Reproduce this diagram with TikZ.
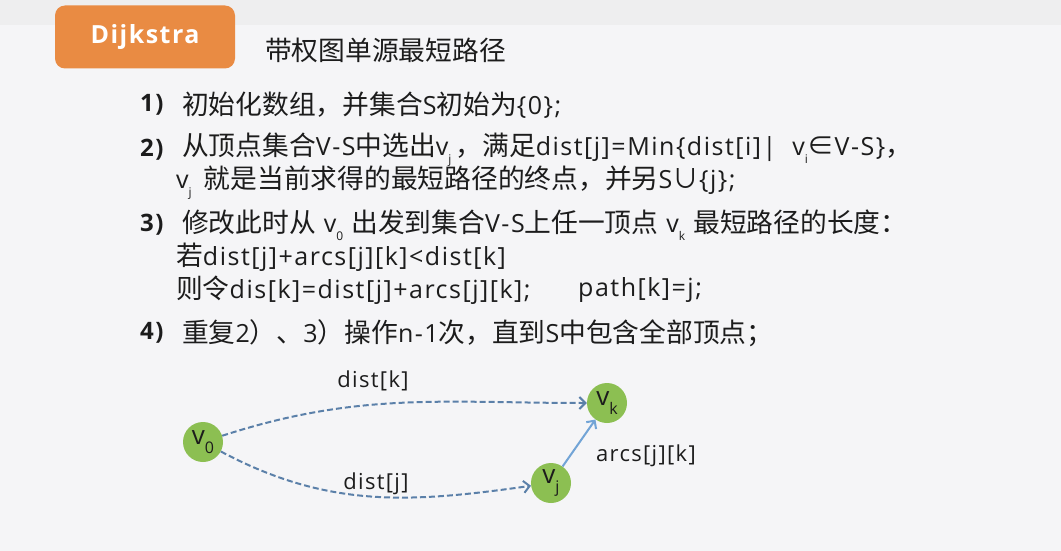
\documentclass[tikz,border=0pt]{standalone}
\usepackage{fontspec}
\setmainfont{Open Sans}[LetterSpace=6]
\newfontfamily\latinfont{Open Sans}[LetterSpace=6]
\newfontfamily\cjkfont{Noto Sans CJK SC}[Scale=1.07]
\usetikzlibrary{arrows.meta}
\definecolor{slidebg}{HTML}{F5F5F7}
\definecolor{topband}{HTML}{EEEEEF}
\definecolor{tagorange}{HTML}{E98B43}
\definecolor{vgreen}{HTML}{8CBF52}
\definecolor{pathblue}{HTML}{5B80A9}
\definecolor{arcblue}{HTML}{72A4D6}
\definecolor{ink}{HTML}{1C1C1C}
% CJK characters and a few symbols go to the CJK font
\newXeTeXintercharclass\cjkclass
\newcount\cjkcode
\newcommand{\cjkrange}[2]{%
  \cjkcode=#1
  \loop
    \XeTeXcharclass\cjkcode=\cjkclass
    \advance\cjkcode by 1
  \ifnum\cjkcode<#2 \repeat}
\cjkrange{"4E00}{"A000}
\cjkrange{"3000}{"3040}
\cjkrange{"FF00}{"FFF0}
\XeTeXcharclass"2208=\cjkclass
\XeTeXcharclass"222A=\cjkclass
\XeTeXinterchartoks 0 \cjkclass = {\cjkfont}
\XeTeXinterchartoks 4095 \cjkclass = {\cjkfont}
\XeTeXinterchartoks \cjkclass 0 = {\latinfont}
\XeTeXinterchartoks \cjkclass 4095 = {\latinfont}
\XeTeXinterchartokenstate=1
\newcommand{\vsub}[2][12]{\raisebox{-0.6ex}{\fontsize{#1}{#1}\selectfont #2}}
\tikzset{
  tagbox/.style={fill=tagorange, rounded corners=10pt, minimum width=180pt, minimum height=63pt,
    text=white, font=\fontsize{25}{25}\selectfont\bfseries},
  titletext/.style={anchor=west, inner sep=0pt, text=ink, font=\fontsize{25}{30}\selectfont},
  stepnum/.style={anchor=west, inner sep=0pt, text=ink, font=\fontsize{24}{30}\selectfont\bfseries},
  bodytext/.style={anchor=west, inner sep=0pt, text=ink, font=\fontsize{25}{30}\selectfont},
  vertex/.style={circle, fill=vgreen, minimum size=40pt, inner sep=0pt, text=ink,
    font=\fontsize{26}{26}\selectfont},
  edgelabel/.style={inner sep=0pt, text=ink, font=\fontsize{22}{26}\selectfont},
  distpath/.style={pathblue, line width=2pt, dash pattern=on 6pt off 3pt,
    -{Straight Barb[length=6pt,width=12pt,line width=2pt]}},
  arcpath/.style={arcblue, line width=2pt,
    -{Straight Barb[length=6pt,width=12pt,line width=2pt]}}
}

\begin{document}
\begin{tikzpicture}[x=1pt,y=-1pt]

	\useasboundingbox (0,0) rectangle (1061,551);
	\fill[slidebg] (0,0) rectangle (1061,551);
	\fill[topband] (0,0) rectangle (1061,25);

	\node[tagbox] (tag) at (145,37) {Dijkstra};
	\node[titletext] (title) at (265,50) {带权图单源最短路径};

	% steps
	\node[stepnum] (num1) at (140,105) {1)};
	\node[bodytext] (step1) at (182,105) {初始化数组，并集合S初始为\{0\};};

	\node[stepnum] (num2) at (140,150) {2)};
	\node[bodytext] (step2) at (182,150) {从顶点集合V-S中选出v\vsub{j}\,，满足dist[j]=Min\{dist[i]|\ \ v\vsub{i}∈V-S\}，};
	\node[bodytext] (step2b) at (176,183) {v\vsub{j}\ \,就是当前求得的最短路径的终点，并另S∪\{j\};};

	\node[stepnum] (num3) at (140,225) {3)};
	\node[bodytext] (step3) at (182,225) {修改此时从\ v\vsub{0}\ 出发到集合V-S上任一顶点\ v\vsub{k}\ 最短路径的长度：};
	\node[bodytext] (step3b) at (176,257) {若dist[j]+arcs[j][k]<dist[k]};
	\node[bodytext] (step3c) at (176,290) {则令dis[k]=dist[j]+arcs[j][k];};
	\node[bodytext] (step3d) at (578,290) {path[k]=j;};

	\node[stepnum] (num4) at (140,333) {4)};
	\node[bodytext] (step4) at (182,333) {重复2）、3）操作n-1次，直到S中包含全部顶点；};

	% graph
	\node[vertex] (v0) at (203,442) {v\vsub[16]{0}};
	\node[vertex] (vk) at (607,403) {v\vsub[16]{k}};
	\node[vertex] (vj) at (551,483) {v\vsub[16]{j}};

	\draw[distpath] (v0) to[out=18, in=180] (vk);
	\draw[distpath] (v0) to[out=-28, in=188] (vj);
	\draw[arcpath] (vj) -- (vk);

	\node[edgelabel] (lbk) at (373,381) {dist[k]};
	\node[edgelabel] (lbj) at (376,484) {dist[j]};
	\node[edgelabel] (lbjk) at (646,456) {arcs[j][k]};

\end{tikzpicture}
\end{document}
